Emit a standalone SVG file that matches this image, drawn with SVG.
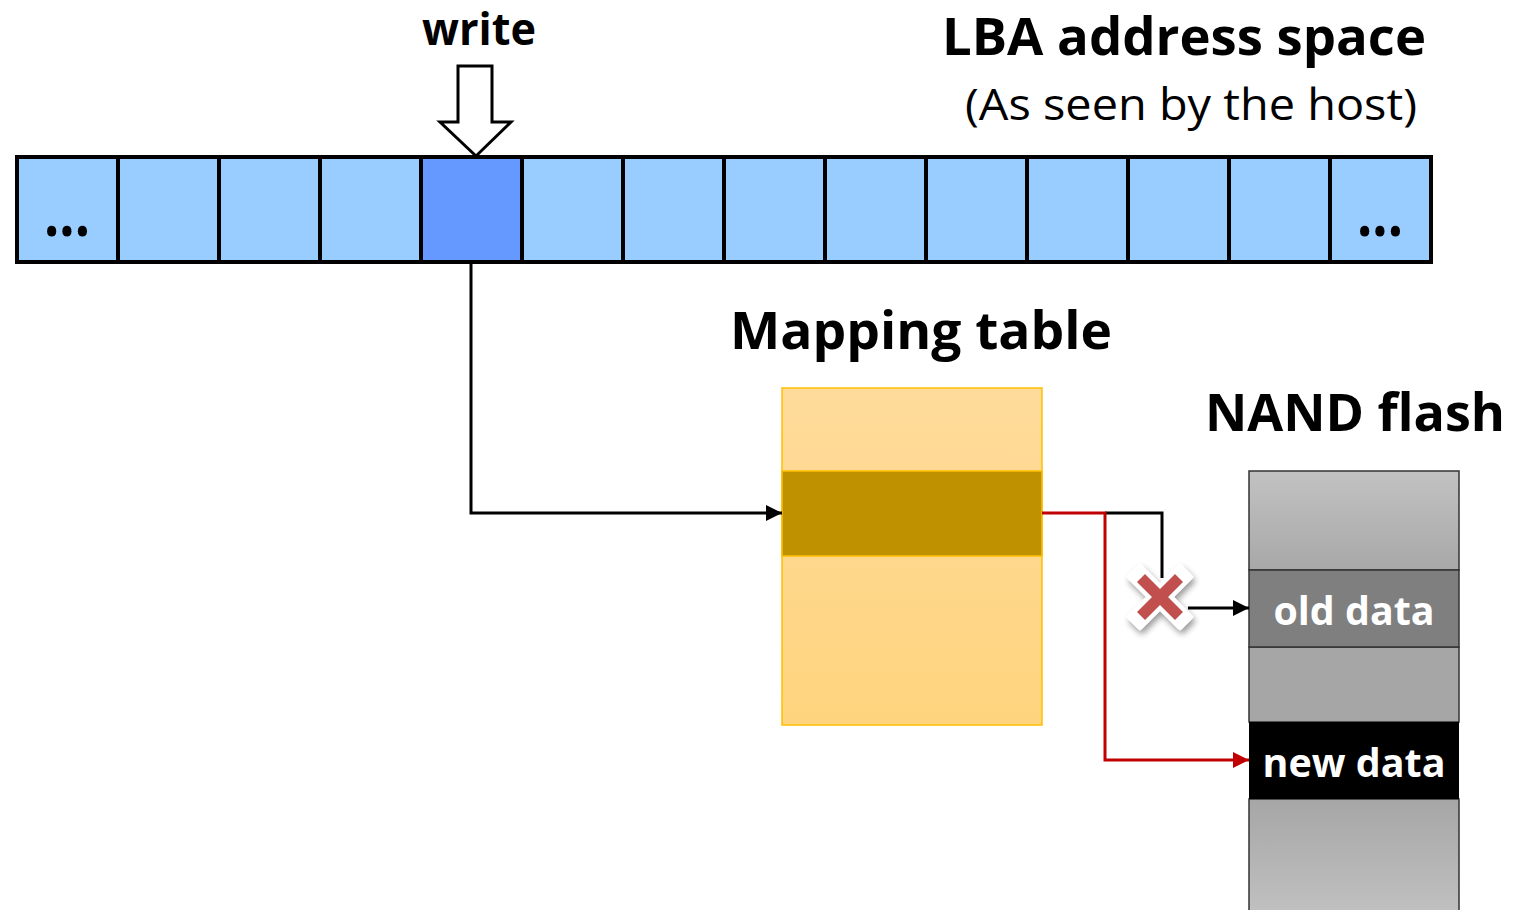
<svg xmlns="http://www.w3.org/2000/svg" width="1514" height="910" viewBox="0 0 1514 910">
<style>
.cell{fill:#99CCFF;stroke:#000;stroke-width:4}
.t{font-family:"Open Sans","Liberation Sans",sans-serif;fill:#000}
.b{font-weight:bold}
.w{fill:#fff;font-weight:bold}
.conn{fill:none;stroke-width:3}
</style>
<defs>
<marker id="ab" viewBox="0 0 10 10" refX="10" refY="5" markerWidth="18" markerHeight="16" orient="auto" markerUnits="userSpaceOnUse"><path d="M0,0 L10,5 L0,10 z" fill="#000"/></marker>
<marker id="ar" viewBox="0 0 10 10" refX="10" refY="5" markerWidth="18" markerHeight="16" orient="auto" markerUnits="userSpaceOnUse"><path d="M0,0 L10,5 L0,10 z" fill="#C00000"/></marker>
<linearGradient id="gm" x1="0" y1="0" x2="0" y2="1"><stop offset="0" stop-color="#FFDB9B"/><stop offset="1" stop-color="#FFD47E"/></linearGradient>
<linearGradient id="gn1" x1="0" y1="0" x2="0" y2="1"><stop offset="0" stop-color="#C2C2C2"/><stop offset="1" stop-color="#A8A8A8"/></linearGradient>
<linearGradient id="gn2" x1="0" y1="0" x2="0" y2="1"><stop offset="0" stop-color="#A6A6A6"/><stop offset="1" stop-color="#C0C0C0"/></linearGradient>
<filter id="sh" x="-30%" y="-30%" width="160%" height="160%"><feGaussianBlur in="SourceAlpha" stdDeviation="3"/><feOffset dx="2" dy="4" result="o"/><feComponentTransfer><feFuncA type="linear" slope="0.4"/></feComponentTransfer><feMerge><feMergeNode/><feMergeNode in="SourceGraphic"/></feMerge></filter>
</defs>
<g id="lba">
<rect class="cell" x="17" y="157" width="101" height="105"/>
<rect class="cell" x="118" y="157" width="101" height="105"/>
<rect class="cell" x="219" y="157" width="101" height="105"/>
<rect class="cell" x="320" y="157" width="101" height="105"/>
<rect class="cell" x="522" y="157" width="101" height="105"/>
<rect class="cell" x="623" y="157" width="101" height="105"/>
<rect class="cell" x="724" y="157" width="101" height="105"/>
<rect class="cell" x="825" y="157" width="101" height="105"/>
<rect class="cell" x="926" y="157" width="101" height="105"/>
<rect class="cell" x="1027" y="157" width="101" height="105"/>
<rect class="cell" x="1128" y="157" width="101" height="105"/>
<rect class="cell" x="1229" y="157" width="101" height="105"/>
<rect class="cell" x="1330" y="157" width="101" height="105"/>
<rect class="cell" x="421" y="157" width="101" height="105" style="fill:#6699FF"/>
<text class="t b" x="67" y="236" font-size="64" text-anchor="middle" textLength="46" lengthAdjust="spacingAndGlyphs">...</text>
<text class="t b" x="1380" y="236" font-size="64" text-anchor="middle" textLength="46" lengthAdjust="spacingAndGlyphs">...</text>
</g>
<g id="write">
<path d="M458,66 H492 V122 H511 L476,156 L440,122 H458 Z" fill="#fff" stroke="#000" stroke-width="3"/>
<text class="t b" x="479" y="45" font-size="44" text-anchor="middle" textLength="114" lengthAdjust="spacingAndGlyphs">write</text>
</g>
<g id="titles">
<text class="t b" x="1426" y="55" font-size="52" text-anchor="end" textLength="484" lengthAdjust="spacingAndGlyphs">LBA address space</text>
<text class="t" x="1417" y="120" font-size="44" text-anchor="end" textLength="452" lengthAdjust="spacingAndGlyphs">(As seen by the host)</text>
</g>
<g id="mapping">
<text class="t b" x="921" y="349" font-size="52" text-anchor="middle" textLength="382" lengthAdjust="spacingAndGlyphs">Mapping table</text>
<rect x="782" y="388" width="260" height="337" fill="url(#gm)" stroke="#FFC000" stroke-width="1.5"/>
<rect x="782" y="471" width="260" height="85" fill="#BF9000" stroke="#FFC000" stroke-width="1.5"/>
</g>
<g id="nand">
<text class="t b" x="1355" y="431" font-size="52" text-anchor="middle" textLength="300" lengthAdjust="spacingAndGlyphs">NAND flash</text>
<rect x="1249" y="471" width="210" height="99" fill="url(#gn1)" stroke="#333" stroke-width="1.5"/>
<rect x="1249" y="647" width="210" height="75" fill="#A6A6A6" stroke="#333" stroke-width="1.5"/>
<rect x="1249" y="799" width="210" height="113" fill="url(#gn2)" stroke="#333" stroke-width="1.5"/>
<rect x="1249" y="570" width="210" height="77" fill="#7F7F7F" stroke="#333" stroke-width="1.5"/>
<rect x="1249" y="722" width="210" height="77" fill="#000"/>
<text class="t w" x="1354" y="625" font-size="40" text-anchor="middle" textLength="161" lengthAdjust="spacingAndGlyphs">old data</text>
<text class="t w" x="1354" y="777" font-size="40" text-anchor="middle" textLength="183" lengthAdjust="spacingAndGlyphs">new data</text>
</g>
<g id="connectors">
<path class="conn" d="M471,262 V513 H782" stroke="#000" marker-end="url(#ab)"/>
<path class="conn" d="M1105,513 H1162 V578" stroke="#000"/>
<path class="conn" d="M1188,608 H1249" stroke="#000" marker-end="url(#ab)"/>
<path class="conn" d="M1042,513 H1105 V760 H1249" stroke="#C00000" marker-end="url(#ar)"/>
</g>
<g id="cross" filter="url(#sh)">
<path d="M1160,597 m-30,-20 l10,-10 l20,20 l20,-20 l10,10 l-20,20 l20,20 l-10,10 l-20,-20 l-20,20 l-10,-10 l20,-20 z" fill="#fff" stroke="#fff" stroke-width="6" stroke-linejoin="round"/>
<path d="M1160,597 m-23,-15 l8,-8 l15,15 l15,-15 l8,8 l-15,15 l15,15 l-8,8 l-15,-15 l-15,15 l-8,-8 l15,-15 z" fill="#C0504D"/>
</g>
</svg>
